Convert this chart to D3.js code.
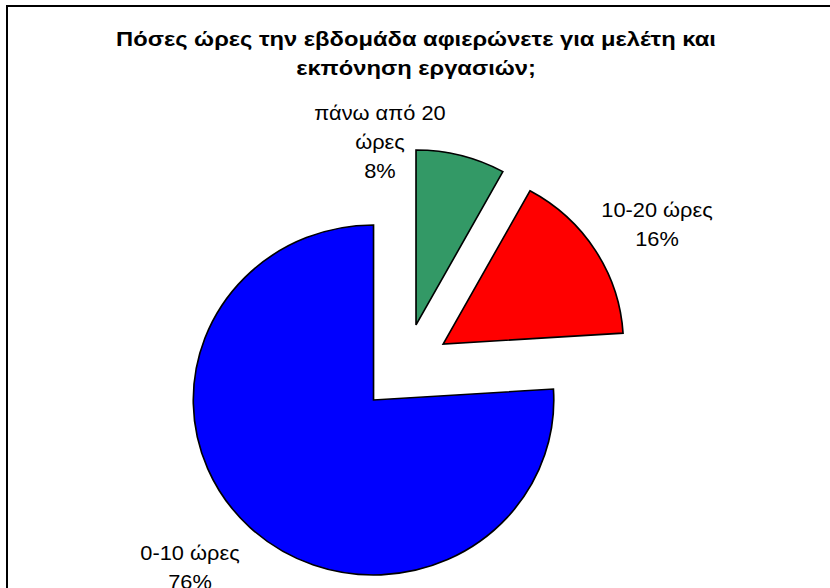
<!DOCTYPE html>
<html>
<head>
<meta charset="utf-8">
<script src="https://cdn.jsdelivr.net/npm/d3@7"></script>
<style>
  html, body { margin: 0; padding: 0; background: #fff; }
  svg { display: block; }
  text { font-family: "Liberation Sans", Arial, sans-serif; fill: #000; }
</style>
</head>
<body>
<svg id="chart" width="830" height="588"></svg>
<script>
// ---- data ----
const categories = ["0-10 ώρες", "10-20 ώρες", "πάνω από 20 ώρες"];
const values = [76, 16, 8];
const labelLines = [["0-10 ώρες", "76%"], ["10-20 ώρες", "16%"], ["πάνω από 20", "ώρες", "8%"]];
const titleLines = ["Πόσες ώρες την εβδομάδα αφιερώνετε για μελέτη και", "εκπόνηση εργασιών;"];

// ---- layout / style ----
const colors = ["#0000FF", "#FF0000", "#339966"];
const W = 830, H = 588;
const cx = 404.7, cy = 367.8, radius = 175, explode = 44.2, sx = 1.03;
// label anchor (centre x, first baseline) per slice
const labelAnchor = [[190, 560], [657, 217.5], [380, 120]];
const lineH = 29;
const titleX = 416, labelStretch = 1.09, titleStretch = 1.13;

const svg = d3.select("#chart");

// frame
svg.append("rect")
  .attr("x", 7).attr("y", 6).attr("width", W).attr("height", H)
  .attr("fill", "#fff").attr("stroke", "#000").attr("stroke-width", 2);

// title
const title = svg.append("text")
  .attr("text-anchor", "middle")
  .attr("transform", `translate(${titleX},0) scale(${titleStretch},1) translate(${-titleX},0)`)
  .style("font-weight", "bold").style("font-size", "21px");
titleLines.forEach((t, i) => {
  title.append("tspan").attr("x", titleX).attr("y", 46.5 + i * 29).text(t);
});

// pie
const pie = d3.pie().sort(null).startAngle(0).endAngle(-2 * Math.PI);
const arcs = pie(values);
const arc = d3.arc().innerRadius(0).outerRadius(radius);

const g = svg.append("g").attr("transform", `translate(${cx},${cy}) scale(${sx},1)`);
g.selectAll("path.slice")
  .data(arcs)
  .join("path")
  .attr("class", "slice")
  .attr("d", arc)
  .attr("transform", d => {
    const a = (d.startAngle + d.endAngle) / 2;
    return `translate(${explode * Math.sin(a)},${-explode * Math.cos(a)})`;
  })
  .attr("fill", (d, i) => colors[i])
  .attr("stroke", "#000")
  .attr("stroke-width", 1.6)
  .attr("stroke-linejoin", "miter");

// labels
arcs.forEach((d, i) => {
  const x0 = labelAnchor[i][0];
  const t = svg.append("text")
    .attr("text-anchor", "middle")
    .attr("transform", `translate(${x0},0) scale(${labelStretch},1) translate(${-x0},0)`)
    .style("font-size", "20px");
  labelLines[i].forEach((ln, j) => {
    t.append("tspan")
      .attr("x", x0)
      .attr("y", labelAnchor[i][1] + j * lineH)
      .text(ln);
  });
});
</script>
</body>
</html>
